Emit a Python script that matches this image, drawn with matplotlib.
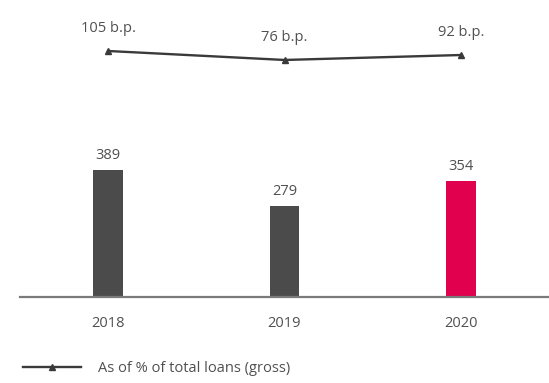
import matplotlib
matplotlib.use("Agg")
import matplotlib.pyplot as plt

years = ["2018", "2019", "2020"]
bar_values = [389, 279, 354]
bp_values = [105, 76, 92]
bp_labels = ["105 b.p.", "76 b.p.", "92 b.p."]
legend_label = "As of % of total loans (gross)"

bar_colors = ["#4b4b4b", "#4b4b4b", "#e0004d"]
text_color = "#505050"

plt.rcParams['font.family'] = ['Open Sans', 'DejaVu Sans']

fig = plt.figure(figsize=(5.49, 3.83), dpi=100)
ax = fig.add_axes([20/549, 1 - 297/383, 1 - 20/549, 277/383])
x = list(range(len(years)))

ax.bar(x, bar_values, width=0.165, color=bar_colors, zorder=2)
for xi, v in zip(x, bar_values):
    ax.annotate(str(v), (xi, v), xytext=(0, 5), textcoords="offset points",
                ha="center", va="bottom", fontsize=10.5, color=text_color)
ax.set_xlim(-0.499, 2.499)
ax.set_ylim(0, 848)
ax.set_xticks(x)
ax.set_xticklabels(years, fontsize=10.5, color=text_color)
ax.tick_params(axis="x", length=0, pad=14)
ax.set_yticks([])
for s in ["top", "right", "left"]:
    ax.spines[s].set_visible(False)
ax.spines["bottom"].set_color("#7a7a7a")
ax.spines["bottom"].set_linewidth(1.6)

ax2 = ax.twinx()
ax2.set_ylim(-689, 205)
ax2.set_yticks([])
for s in ["top", "right", "left", "bottom"]:
    ax2.spines[s].set_visible(False)
line, = ax2.plot(x, bp_values, color="#3a3a3a", lw=1.7, marker="^",
                 markersize=5, label=legend_label)
for xi, v, lab in zip(x, bp_values, bp_labels):
    ax2.annotate(lab, (xi, v), xytext=(0, 11), textcoords="offset points",
                 ha="center", va="bottom", fontsize=10.5, color=text_color)

fig.legend(handles=[line], loc="center left", bbox_to_anchor=(10/549, 1 - 369/383),
           frameon=False, handlelength=4.0, fontsize=10.5, labelcolor=text_color,
           handletextpad=1.1)

fig.savefig("out.png", dpi=100)
